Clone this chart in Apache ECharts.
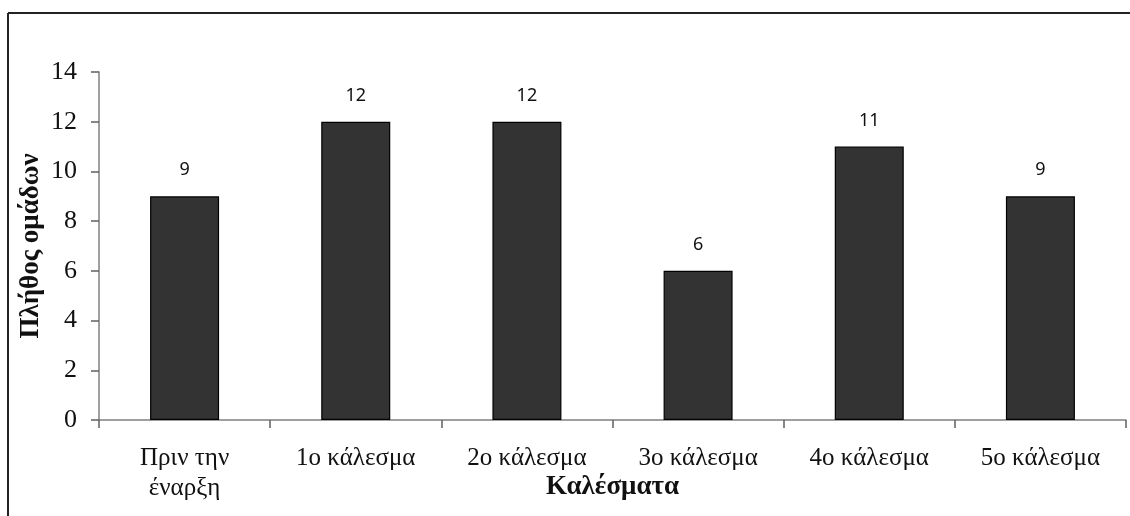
<!DOCTYPE html>
<html><head><meta charset="utf-8">
<script src="https://cdn.jsdelivr.net/npm/echarts@6/dist/echarts.min.js"></script>
<style>html,body{margin:0;padding:0;background:#fff;overflow:hidden}#c{width:1130px;height:516px}</style>
</head><body><div id="c"></div>
<script>
const categories = ['Πριν την\nέναρξη', '1ο κάλεσμα', '2ο κάλεσμα', '3ο κάλεσμα', '4ο κάλεσμα', '5ο κάλεσμα'];
const values = [9, 12, 12, 6, 11, 9];
const yTicks = [0, 2, 4, 6, 8, 10, 12, 14];
const xTitle = 'Καλέσματα';
const yTitle = 'Πλήθος ομάδων';

const serif = '"Liberation Serif", "DejaVu Serif", serif';
const chart = echarts.init(document.getElementById('c'), null, {renderer: 'canvas'});
chart.setOption({
  animation: false,
  backgroundColor: '#fff',
  grid: {left: 99, right: 4, top: 72, bottom: 96, containLabel: false, outerBoundsMode: 'none'},
  xAxis: {
    type: 'category', data: categories,
    axisLine: {lineStyle: {color: '#808080', width: 1.5}},
    axisTick: {show: true, length: 8, lineStyle: {color: '#606060', width: 1.5}},
    axisLabel: {fontFamily: serif, fontSize: 25, color: '#111', margin: 23, lineHeight: 30, interval: 0},
    name: xTitle, nameLocation: 'middle', nameGap: 54, nameMoveOverlap: false,
    nameTextStyle: {fontFamily: serif, fontSize: 27, fontWeight: 'bold', color: '#111'}
  },
  yAxis: {
    type: 'value', min: 0, max: 14, interval: 2,
    axisLine: {show: true, lineStyle: {color: '#808080', width: 1.5}},
    axisTick: {show: true, length: 8, lineStyle: {color: '#606060', width: 1.5}},
    splitLine: {show: false},
    axisLabel: {fontFamily: serif, fontSize: 26, color: '#111', margin: 22,
      formatter: v => yTicks.includes(v) ? String(v) : ''},
    name: yTitle, nameLocation: 'middle', nameGap: 54, nameRotate: 90, nameMoveOverlap: false,
    nameTextStyle: {fontFamily: serif, fontSize: 27, fontWeight: 'bold', color: '#111'}
  },
  series: [{
    type: 'bar', data: values, barWidth: 69,
    itemStyle: {color: '#333333', borderColor: '#000', borderWidth: 1.2},
    label: {show: true, position: 'top', distance: 17, fontFamily: '"Noto Sans", sans-serif', fontSize: 18, color: '#111'}
  }],
  graphic: [
    {type: 'line', shape: {x1: 8, y1: 13, x2: 1130, y2: 13}, style: {stroke: '#222', lineWidth: 2}},
    {type: 'line', shape: {x1: 8, y1: 13, x2: 8, y2: 516}, style: {stroke: '#222', lineWidth: 2}}
  ]
});
</script></body></html>
